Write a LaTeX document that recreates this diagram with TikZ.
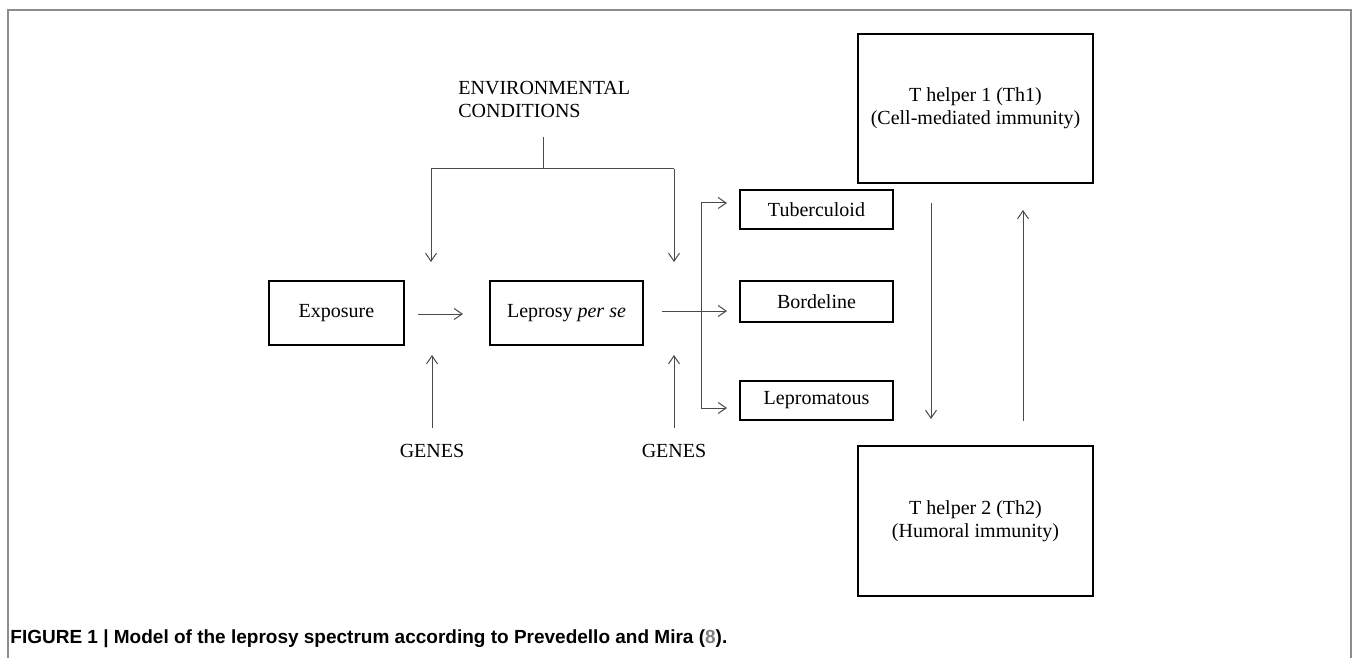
\documentclass[tikz,border=0pt]{standalone}
\usepackage{fontspec}
\setmainfont{Liberation Serif}
\newfontfamily\capfont{Liberation Sans}
\usetikzlibrary{arrows.meta}
\definecolor{framegray}{HTML}{8C8C8C}
\definecolor{arrgray}{HTML}{4A4A4A}
\definecolor{refgray}{HTML}{808080}
\begin{document}
\begin{tikzpicture}[x=0.5pt,y=-0.5pt,
  box/.style={draw=black,line width=1.15pt,inner sep=0pt,align=center,font=\fontsize{10pt}{11.5pt}\selectfont},
  lbl/.style={inner sep=0pt,font=\fontsize{10pt}{11.5pt}\selectfont},
  arr/.style={draw=arrgray,line width=0.5pt,-{Straight Barb[length=4pt,width=5.5pt]}},
  ln/.style={draw=arrgray,line width=0.5pt},
]
\useasboundingbox (0,0) rectangle (1356,658);
% frame (open at the bottom)
\draw[framegray,line width=0.7pt] (8,658) -- (8,10) -- (1351,10) -- (1351,658);

% boxes
\node[box,minimum width=67.5pt,minimum height=32pt] (exp) at (336.5,313) {Exposure};
\node[box,minimum width=76.5pt,minimum height=32pt] (lep) at (566.5,313) {Leprosy \textit{per se}};
\node[box,minimum width=76.5pt,minimum height=19.5pt] (tub) at (816.5,209.5) {Tuberculoid};
\node[box,minimum width=76.5pt,minimum height=20.5pt] (bord) at (816.5,301.5) {Bordeline};
\node[box,minimum width=76.5pt,minimum height=19.5pt] (lepr) at (816.5,400.5) {Lepromatous};
\node[box,minimum width=117.5pt,minimum height=74.5pt] (th1) at (975.5,108.5) {T helper 1 (Th1)\\(Cell-mediated immunity)};
\node[box,minimum width=117.5pt,minimum height=75pt] (th2) at (975.5,521) {T helper 2 (Th2)\\(Humoral immunity)};

% labels
\node[lbl,align=left,anchor=north west] (env) at (458,81) {ENVIRONMENTAL\\CONDITIONS};
\node[lbl,anchor=base] (genes1) at (432,457) {GENES};
\node[lbl,anchor=base] (genes2) at (674,457) {GENES};

% coordinates
\coordinate (envtop) at (543,137);
\coordinate (envmid) at (543,169);
\coordinate (envL) at (431,169);
\coordinate (envR) at (674,169);
\coordinate (envLend) at (431,262);
\coordinate (envRend) at (674,262);
\coordinate (g1s) at (432,428);
\coordinate (g1e) at (432,355);
\coordinate (g2s) at (674,428);
\coordinate (g2e) at (674,355);
\coordinate (ea) at (418,314);
\coordinate (eb) at (463,314);
\coordinate (la) at (662,311);
\coordinate (lb) at (727,311);
\coordinate (brT) at (701,203);
\coordinate (brB) at (701,408);
\coordinate (tubIn) at (727,203);
\coordinate (leprIn) at (727,408);
\coordinate (dnS) at (931,203);
\coordinate (dnE) at (931,419);
\coordinate (upS) at (1023,421);
\coordinate (upE) at (1023,210);

% environmental conditions tree
\draw[ln] (envtop) -- (envmid);
\draw[ln] (envL) -- (envR);
\draw[arr] (envL) -- (envLend);
\draw[arr] (envR) -- (envRend);

% genes
\draw[arr] (g1s) -- (g1e);
\draw[arr] (g2s) -- (g2e);

% main flow
\draw[arr] (ea) -- (eb);
\draw[arr] (la) -- (lb);
\draw[ln] (brT) -- (brB);
\draw[arr] (brT) -- (tubIn);
\draw[arr] (brB) -- (leprIn);

% Th1 / Th2 cycle
\draw[arr] (dnS) -- (dnE);
\draw[arr] (upS) -- (upE);

% caption
\node[anchor=base west,inner sep=0pt,font=\capfont\bfseries\fontsize{9.5pt}{11pt}\selectfont] (cap) at (10,643)
  {FIGURE 1 | Model of the leprosy spectrum according to Prevedello and Mira (\textcolor{refgray}{8}).};
\end{tikzpicture}
\end{document}
